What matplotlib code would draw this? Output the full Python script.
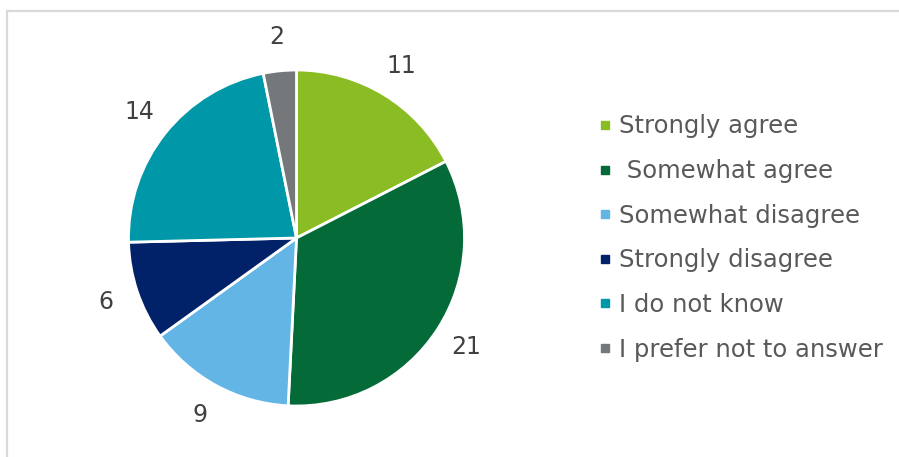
import matplotlib.pyplot as plt
from matplotlib.lines import Line2D
from matplotlib.patches import Rectangle

categories = ['Strongly agree', ' Somewhat agree', 'Somewhat disagree',
              'Strongly disagree', 'I do not know', 'I prefer not to answer']
counts = [11, 21, 9, 6, 14, 2]
colors = ['#8abd24', '#046a38', '#62b5e5', '#012169', '#0097a9', '#75787b']

W, H = 899, 457
fig = plt.figure(figsize=(W / 100, H / 100), dpi=100)

# light grey frame around the chart area
fig.patches.append(Rectangle((7 / W, -0.1), 1.2, (H - 11) / H + 0.1,
                             transform=fig.transFigure, fill=False,
                             edgecolor='#d9d9d9', linewidth=1.6))

# pie centre / radius in pixels
cx, cy, r = 296.5, 238, 168
ax = fig.add_axes([(cx - r) / W, (H - cy - r) / H, 2 * r / W, 2 * r / H])
wedges, texts = ax.pie(counts, colors=colors, startangle=90, counterclock=False,
                       labels=[str(c) for c in counts], labeldistance=1.2,
                       wedgeprops=dict(edgecolor='white', linewidth=2),
                       textprops=dict(fontsize=17, color='#404040'))
for t in texts:
    t.set_ha('center')
    t.set_va('center')
ax.set_xlim(-1, 1)
ax.set_ylim(-1, 1)
ax.axis('off')

handles = [Line2D([], [], marker='s', linestyle='none', markersize=5.8,
                  markerfacecolor=c, markeredgecolor=c) for c in colors]
fig.legend(handles, categories, loc='center left', bbox_to_anchor=(586 / W, 1 - 238 / H),
           frameon=False, fontsize=17.5, labelcolor='#595959', handlelength=0.6,
           handletextpad=0.25, labelspacing=0.85, borderpad=0)

plt.savefig('out.png', dpi=100)
